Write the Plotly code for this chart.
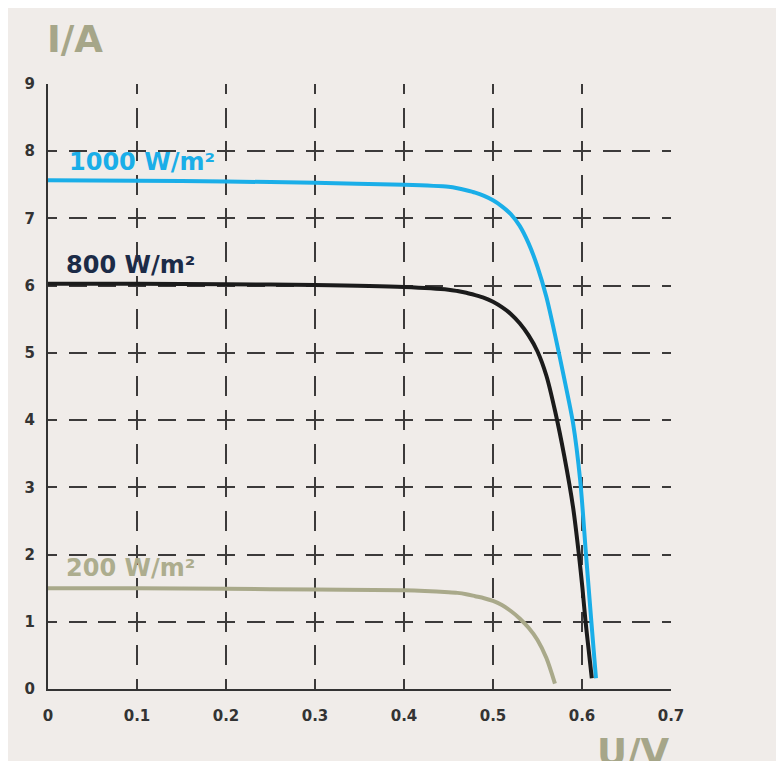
import plotly.graph_objects as go

# ---- data ----
u_1000 = [0.0, 0.1, 0.2, 0.3, 0.4, 0.45, 0.46, 0.47, 0.48, 0.49, 0.5, 0.51, 0.52, 0.53, 0.54, 0.55, 0.56,
          0.57, 0.58, 0.59, 0.598, 0.6045, 0.6105, 0.6157]
i_1000 = [7.57, 7.56, 7.55, 7.53, 7.50, 7.47, 7.45, 7.42, 7.385, 7.335, 7.27, 7.18, 7.065, 6.89, 6.63, 6.28, 5.83,
          5.25, 4.62, 3.95, 3.1, 2.0, 1.0, 0.16]

u_800 = [0.0, 0.1, 0.2, 0.3, 0.4, 0.45, 0.46, 0.47, 0.48, 0.49, 0.5, 0.51, 0.52, 0.53, 0.54, 0.55, 0.56,
         0.57, 0.58, 0.59, 0.5965, 0.6005, 0.604, 0.6075, 0.611]
i_800 = [6.03, 6.03, 6.02, 6.01, 5.98, 5.94, 5.92, 5.895, 5.86, 5.82, 5.76, 5.68, 5.58, 5.44, 5.26, 5.02, 4.66,
         4.12, 3.47, 2.7, 2.0, 1.5, 1.0, 0.58, 0.16]

u_200 = [0.0, 0.1, 0.2, 0.3, 0.4, 0.45, 0.46, 0.47, 0.48, 0.49, 0.5, 0.51, 0.52, 0.53, 0.54, 0.55, 0.56, 0.5696]
i_200 = [1.50, 1.50, 1.49, 1.48, 1.47, 1.44, 1.43, 1.41, 1.38, 1.35, 1.31, 1.25, 1.16, 1.05, 0.91, 0.73, 0.46, 0.08]

series_names = ["1000 W/m²", "800 W/m²", "200 W/m²"]
x_ticks = [0, 0.1, 0.2, 0.3, 0.4, 0.5, 0.6, 0.7]
x_tick_text = ["0", "0.1", "0.2", "0.3", "0.4", "0.5", "0.6", "0.7"]
y_ticks = [0, 1, 2, 3, 4, 5, 6, 7, 8, 9]
y_title = "I/A"
x_title = "U/V"

BLUE = "#1aaee8"
BLACK = "#1b1b1b"
OLIVE = "#a9a98a"
BG = "#f0ece9"
GRID = "#3c3a3a"
FONT = "DejaVu Sans"

# page has an 8px body margin; figure fills the rest of the window
W, H = 776, 753
L, R, T, B = 40, 113, 76, 72
pw = W - L - R
ph = H - T - B

fig = go.Figure()
for u, i, c in [(u_1000, i_1000, BLUE), (u_800, i_800, BLACK), (u_200, i_200, OLIVE)]:
    fig.add_trace(go.Scatter(x=u, y=i, mode="lines",
                             line=dict(color=c, width=4, shape="spline", smoothing=0.8),
                             showlegend=False, hoverinfo="skip"))


def px_to_paper_x(px):
    return (px - 8 - L) / pw


def px_to_paper_y(py):
    return (H - B - (py - 8)) / ph


hper = pw / 7 / 3
vper = ph / 9 / 2
hdash = f"9px,{hper-18:.3f}px,9px,0px"
vdash = f"10px,{vper-20:.3f}px,10px,0px"

fig.update_xaxes(range=[0, 0.7], tickvals=x_ticks, ticktext=x_tick_text,
                 showgrid=True, gridcolor=GRID, gridwidth=2, griddash=vdash,
                 showline=True, linecolor="#333333", linewidth=2,
                 zeroline=False, ticks="", ticklabelstandoff=12,
                 tickfont=dict(family=FONT, size=15, color="#333333", weight="bold"))
fig.update_yaxes(range=[0, 9], tickvals=y_ticks,
                 showgrid=True, gridcolor=GRID, gridwidth=2, griddash=hdash,
                 showline=True, linecolor="#333333", linewidth=2,
                 zeroline=False, ticks="", ticklabelstandoff=8,
                 tickfont=dict(family=FONT, size=15, color="#333333", weight="bold"))

label_specs = [
    (series_names[0], 0.021, 7.84, BLUE),
    (series_names[1], 0.018, 6.31, "#1c2b47"),
    (series_names[2], 0.018, 1.80, "#adad8e"),
]
for txt, x, y, c in label_specs:
    fig.add_annotation(x=x, y=y, text=txt, showarrow=False, xanchor="left", yanchor="middle",
                       font=dict(family=FONT, size=24, color=c, weight="bold"))

fig.add_annotation(xref="paper", yref="paper", x=px_to_paper_x(45), y=px_to_paper_y(39),
                   text=y_title, showarrow=False, xanchor="left", yanchor="middle",
                   font=dict(family=FONT, size=37, color="#a6a689", weight="bold"))
fig.add_annotation(xref="paper", yref="paper", x=px_to_paper_x(595), y=px_to_paper_y(752),
                   text=x_title, showarrow=False, xanchor="left", yanchor="middle",
                   font=dict(family=FONT, size=37, color="#a6a689", weight="bold"))

fig.update_layout(width=W, height=H, margin=dict(l=L, r=R, t=T, b=B),
                  paper_bgcolor=BG, plot_bgcolor="rgba(0,0,0,0)")

fig.write_html("out.html")
